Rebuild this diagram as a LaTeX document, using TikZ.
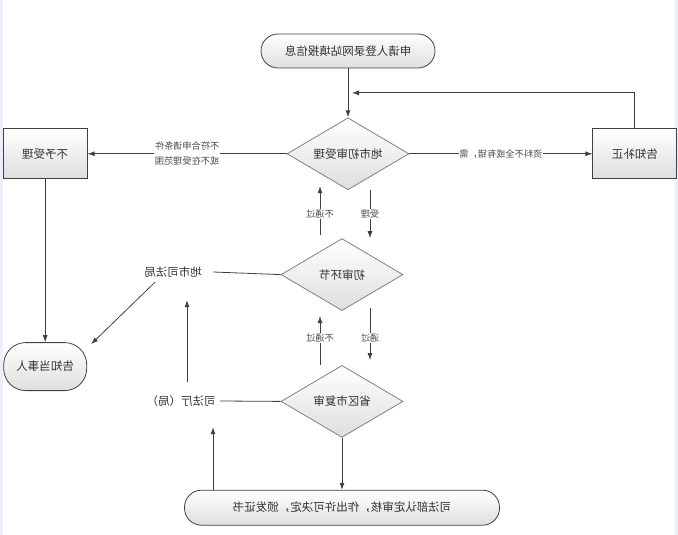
\documentclass[tikz,border=0pt]{standalone}
\usepackage{fontspec}
\newfontfamily\cjk{Noto Sans CJK SC}
\usetikzlibrary{positioning, shapes.geometric, arrows.meta, calc}
\newcommand{\fl}[1]{\reflectbox{#1}}
\definecolor{edgeblue}{RGB}{233,240,250}
\definecolor{linegray}{RGB}{64,64,64}
\definecolor{fillgray}{RGB}{222,222,222}

\begin{document}
\begin{tikzpicture}[x=1pt, y=-1pt,
    font=\cjk\fontsize{11.5}{13}\selectfont, text=black!80,
    box/.style={draw=linegray, line width=0.8pt, top color=white, bottom color=fillgray, minimum width=84pt, minimum height=50pt},
    roundbox/.style={box, rounded corners=17pt, minimum height=34pt},
    decision/.style={diamond, aspect=1.7, draw=black!50, line width=0.8pt, top color=white, bottom color=fillgray, inner sep=2pt, minimum width=122pt, minimum height=72pt},
    line/.style={draw=linegray, line width=0.8pt},
    arrow/.style={line, -{Latex[length=7pt,width=5pt]}},
    lbl/.style={fill=white, inner sep=1pt, text=black!70, align=center, font=\cjk\fontsize{9.2}{15}\selectfont},
    plain/.style={inner sep=0pt, minimum height=20pt}]
        \useasboundingbox (0,0) rectangle (678,535);
        \fill[edgeblue] (0,0) rectangle (3,535);
        \fill[edgeblue] (675,0) rectangle (678,535);

        \node[roundbox, minimum width=174pt] (apply) at (348,51) {\fl{申请人登录网站填报信息}};
        \node[decision, below = 49pt of apply] (d1) {\fl{地市初审受理}};
        \node[box, left = 199pt of d1] (reject) {\fl{不予受理}};
        \node[box, right = 183pt of d1] (fix) {\fl{告知补正}};
        \node[roundbox, minimum width=83pt, minimum height=48pt, rounded corners=22pt, below = 163pt of reject] (notify) {\fl{告知当事人}};
        \node[decision, below = 48pt of d1, xshift=-6pt] (d2) {\fl{初审环节}};
        \node[decision, below = 54pt of d2] (d3) {\fl{省区市复审}};
        \node[roundbox, minimum width=315pt, minimum height=35pt, below = 52pt of d3] (final) {\fl{司法部认定审核，作出许可决定，颁发证书}};
        \node[plain, minimum width=80pt] (bureau) at (173,272) {\fl{地市司法局}};
        \node[plain, minimum width=78pt] (dept) at (181,401) {\fl{司法厅（局）}};

        \draw[arrow] (apply) -- (d1);
        \draw[arrow] (d1) -- (fix) node[midway, lbl] {\fl{资料不全或有错，需}};
        \draw[arrow, shorten >=4pt] (fix.north) |- ($(apply.south)!.5!(d1.north)$);
        \draw[arrow] (d1) -- (reject) node[midway, lbl] {\fl{不符合申请条件}\\\fl{或不在受理范围}};
        \draw[arrow] (reject) -- (notify);

        \draw[arrow, shorten <=3pt, shorten >=-4pt] ([xshift=-22pt]d2.north) -- ([xshift=-28pt]d1.south) node[midway, lbl] {\fl{不通过}};
        \draw[arrow] ([xshift=22pt]d1.south) -- ([xshift=28pt]d2.north) node[midway, lbl] {\fl{受理}};
        \draw[arrow, shorten >=5pt] ([xshift=-22pt]d3.north) -- ([xshift=-22pt]d2.south) node[midway, lbl] {\fl{不通过}};
        \draw[arrow, shorten <=-3pt, shorten >=5pt] ([xshift=28pt]d2.south) -- ([xshift=28pt]d3.north) node[midway, lbl] {\fl{通过}};
        \draw[arrow] (d3) -- (final);

        \draw[line] (d2.west) -- (bureau.east);
        \draw[line] (d3.west) -- (dept.east);
        \draw[arrow] ([xshift=-18pt]bureau.south) -- ([xshift=4pt, yshift=-2pt]notify.north east);
        \draw[arrow, shorten <=9pt, shorten >=18pt] ([xshift=6pt]dept.north) -- ([xshift=14pt]bureau.south);
        \draw[arrow, shorten >=16pt] ([xshift=-129pt]final.north) -- ([xshift=32pt]dept.south);
    \end{tikzpicture}
\end{document}
